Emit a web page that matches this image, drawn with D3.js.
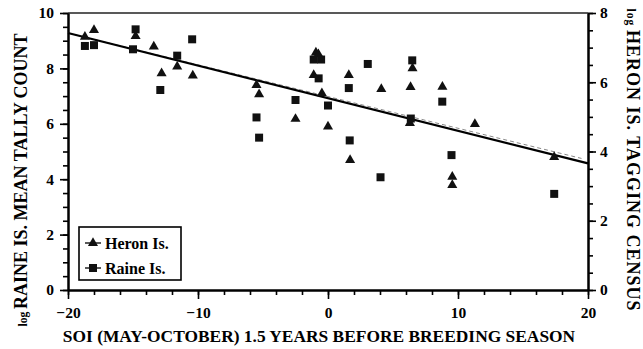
<!DOCTYPE html>
<html>
<head>
<meta charset="utf-8">
<script src="https://cdn.jsdelivr.net/npm/d3@7"></script>
<style>
  html, body { margin: 0; padding: 0; background: #fff; }
  svg { display: block; font-family: "Liberation Serif", "Times New Roman", serif; font-weight: bold; }
</style>
</head>
<body>
<svg id="chart" width="643" height="349"></svg>
<script>
// Heron Island tagging census (log, right axis) vs SOI
const heronSOI = [-18.7, -18.0, -14.8, -13.4, -12.8, -11.6, -10.4, -5.5, -5.3,
  -0.93, -0.74, -1.1, -0.47, -2.5, 0.0, 1.6, 1.7, 4.1, 6.5, 6.35, 6.3, 8.8, 11.3, 9.56, 9.56, 17.4];
const heronLog = [7.31, 7.51, 7.33, 7.03, 6.26, 6.45, 6.19, 5.92, 5.65,
  6.86, 6.81, 6.21, 5.68, 4.94, 4.72, 6.21, 3.75, 5.80, 6.40, 5.86, 4.82, 5.87, 4.79, 3.27, 3.03, 3.84];

// Raine Island mean tally count (log, left axis) vs SOI
const raineSOI = [-18.7, -18.0, -14.8, -15.0, -12.9, -11.6, -10.45, -5.5, -5.3,
  -1.1, -0.53, -0.72, -2.5, 0.0, 1.6, 1.67, 3.06, 4.04, 6.48, 6.37, 8.79, 9.5, 17.4];
const raineLog = [8.81, 8.84, 9.41, 8.69, 7.22, 8.46, 9.05, 6.23, 5.50,
  8.32, 8.32, 7.64, 6.86, 6.66, 7.29, 5.40, 8.16, 4.07, 8.29, 6.19, 6.80, 4.87, 3.47];

// Fitted regression lines (end points)
const raineFitSOI = [-20, 20];
const raineFit = [9.28, 4.57];
const heronFitSOI = [-20, 19.5];
const heronFit = [7.42, 3.80];

// Axis ticks
const soiTicks = [-20, -10, 0, 10, 20];
const soiMinor = d3.range(-20, 20.01, 2);
const leftTicks = [0, 2, 4, 6, 8, 10];
const leftMinor = d3.range(0, 10.01, 0.5);
const rightTicks = [0, 2, 4, 6, 8];
const rightMinor = d3.range(0, 8.01, 0.5);

const legendItems = ["Heron Is.", "Raine Is."];

const svg = d3.select("#chart");
const X0 = 68, X1 = 588, Y0 = 290, Y1 = 13;

const x = d3.scaleLinear().domain([-20, 20]).range([X0, X1]);
const yL = d3.scaleLinear().domain([0, 10]).range([Y0, Y1]);
const yR = d3.scaleLinear().domain([0, 8]).range([Y0, Y1]);

function styleAxis(g, fs) {
  g.select(".domain").attr("stroke", "#000").attr("stroke-width", 2);
  g.selectAll(".tick line").attr("stroke", "#000").attr("stroke-width", 1.6);
  g.selectAll(".tick text").attr("font-size", fs).attr("font-family", "Liberation Serif, serif")
    .attr("font-weight", "bold").attr("fill", "#000");
}

// frame top
svg.append("line").attr("x1", X0).attr("x2", X1).attr("y1", Y1).attr("y2", Y1)
  .attr("stroke", "#222").attr("stroke-width", 1.5);

// bottom axis
svg.append("g").attr("transform", `translate(0,${Y0})`)
  .call(d3.axisBottom(x).tickValues(soiMinor).tickSize(5).tickFormat("").tickSizeOuter(0))
  .call(g => styleAxis(g, 15));
svg.append("g").attr("transform", `translate(0,${Y0})`)
  .call(d3.axisBottom(x).tickValues(soiTicks).tickSize(9).tickPadding(8).tickSizeOuter(0).tickFormat(d3.format("d")))
  .call(g => styleAxis(g, 15.5));

// left axis
svg.append("g").attr("transform", `translate(${X0},0)`)
  .call(d3.axisLeft(yL).tickValues(leftMinor).tickSize(5).tickFormat("").tickSizeOuter(0))
  .call(g => styleAxis(g, 15));
svg.append("g").attr("transform", `translate(${X0},0)`)
  .call(d3.axisLeft(yL).tickValues(leftTicks).tickSize(8).tickPadding(6).tickSizeOuter(0).tickFormat(d3.format("d")))
  .call(g => styleAxis(g, 15.5));

// right axis
svg.append("g").attr("transform", `translate(${X1},0)`)
  .call(d3.axisRight(yR).tickValues(rightMinor).tickSize(5).tickFormat("").tickSizeOuter(0))
  .call(g => styleAxis(g, 15));
svg.append("g").attr("transform", `translate(${X1},0)`)
  .call(d3.axisRight(yR).tickValues(rightTicks).tickSize(8).tickPadding(4).tickSizeOuter(0).tickFormat(d3.format("d")))
  .call(g => styleAxis(g, 15.5));

// axis titles
svg.append("text").attr("x", 319).attr("y", 342)
  .attr("text-anchor", "middle").attr("font-size", 17.4)
  .text("SOI (MAY-OCTOBER) 1.5 YEARS BEFORE BREEDING SEASON");

const lt = svg.append("text").attr("transform", `translate(27,180) rotate(-90)`)
  .attr("text-anchor", "middle").attr("font-size", 18);
lt.append("tspan").attr("font-size", 11.5).text("log ");
lt.append("tspan").text("RAINE IS. MEAN TALLY COUNT");

const rt = svg.append("text").attr("transform", `translate(627,160) rotate(90)`)
  .attr("text-anchor", "middle").attr("font-size", 18).attr("letter-spacing", 1);
rt.append("tspan").attr("font-size", 11.5).text("log ");
rt.append("tspan").text("HERON IS. TAGGING CENSUS");

// regression lines
const heronPts = heronFitSOI.map((s, i) => [x(s), yR(heronFit[i])]);
const rainePts = raineFitSOI.map((s, i) => [x(s), yL(raineFit[i])]);
svg.append("path").attr("d", d3.line()(heronPts)).attr("fill", "none")
  .attr("stroke", "#888").attr("stroke-width", 1).attr("stroke-dasharray", "4,3");
svg.append("path").attr("d", d3.line()(rainePts)).attr("fill", "none")
  .attr("stroke", "#000").attr("stroke-width", 2.2);

// markers
const tri = d3.symbol().type(d3.symbolTriangle).size(44);
const sq = d3.symbol().type(d3.symbolSquare).size(64);

svg.append("g").selectAll("path").data(raineSOI).join("path")
  .attr("d", sq).attr("fill", "#111")
  .attr("transform", (d, i) => `translate(${x(d)},${yL(raineLog[i])})`);

svg.append("g").selectAll("path").data(heronSOI).join("path")
  .attr("d", tri).attr("fill", "#111")
  .attr("transform", (d, i) => `translate(${x(d)},${yR(heronLog[i])})`);

// legend
const lg = svg.append("g");
lg.append("rect").attr("x", 79).attr("y", 227).attr("width", 102).attr("height", 53)
  .attr("fill", "#fff").attr("stroke", "#000").attr("stroke-width", 1.6);
legendItems.forEach((name, i) => {
  const cy = 243 + i * 25;
  lg.append("line").attr("x1", 85).attr("x2", 101).attr("y1", cy).attr("y2", cy)
    .attr("stroke", "#000").attr("stroke-width", 1.3);
  lg.append("path").attr("d", i === 0 ? tri : sq).attr("fill", "#111")
    .attr("transform", `translate(93,${cy})`);
  lg.append("text").attr("x", 105).attr("y", cy + 5.5).attr("font-size", 16).text(name);
});
</script>
</body>
</html>
